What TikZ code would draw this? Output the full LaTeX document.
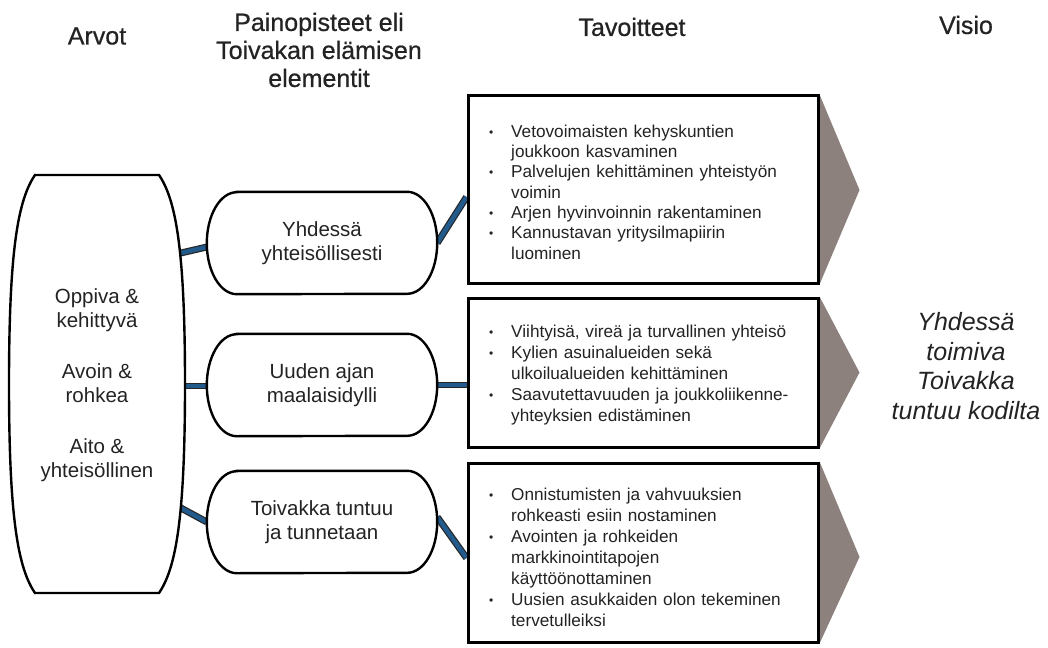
\documentclass[tikz,border=0pt]{standalone}
\usepackage{fontspec}
\setmainfont{Liberation Sans}
\newfontfamily\hfont[FakeBold=0.6]{Liberation Sans}
\usetikzlibrary{calc}
\pgfdeclarelayer{bg}
\pgfdeclarelayer{mid}
\pgfsetlayers{bg,mid,main}
\definecolor{ink}{RGB}{35,35,35}
\definecolor{connblue}{RGB}{35,90,140}
\definecolor{trigray}{RGB}{141,129,125}
\newcommand\bl{\makebox[23pt][l]{\hspace*{1pt}\raisebox{1pt}{\fontsize{12}{12}\selectfont •}}}
\newcommand\ind{\hspace*{23pt}}
\newcommand\stadiumpath[1]{%
  \path[outl] ([xshift=30pt]#1.north west) -- ([xshift=-30pt]#1.north east)
    arc[start angle=90,end angle=-90,x radius=30pt,y radius=51pt]
    -- ([xshift=30pt]#1.south west)
    arc[start angle=270,end angle=90,x radius=30pt,y radius=51pt] -- cycle;}
\tikzset{
  hdr/.style={text=ink, font=\hfont\fontsize{25}{28}\selectfont, align=center, inner sep=0pt},
  midtxt/.style={text=ink, font=\fontsize{20.5}{24.5}\selectfont, align=center, inner sep=0pt},
  midbox/.style={midtxt, minimum width=230pt, minimum height=102pt},
  outl/.style={draw=black, line width=2.4pt, fill=white},
  goalbox/.style={draw=black, line width=3pt, fill=white, minimum width=350pt, inner sep=0pt},
  goaltxt/.style={text=ink, align=left, inner sep=0pt, text width=320pt, anchor=west},
  tri/.style={fill=trigray},
  conn/.style={line width=1.2pt, draw=black!85, double=connblue, double distance=4.5pt},
  vis/.style={text=ink, font=\itshape\fontsize{25}{29.5}\selectfont, align=center, inner sep=0pt}
}
\begin{document}
\begin{tikzpicture}[x=1pt,y=-1pt]
\useasboundingbox (0,0) rectangle (1048,647);
\begin{pgfonlayer}{bg}
\fill[white] (0,0) rectangle (1048,647);
\end{pgfonlayer}

% headers
\node[hdr] (h1) at (97,36) {Arvot};
\node[hdr] (h2) at (319,50) {Painopisteet eli\\Toivakan elämisen\\elementit};
\node[hdr] (h3) at (632,27) {Tavoitteet};
\node[hdr] (h4) at (966,25) {Visio};

% values (barrel)
\node[midtxt] (arvot) at (97,385) {Oppiva \&\\kehittyvä\\[26pt]Avoin \&\\rohkea\\[26pt]Aito \&\\yhteisöllinen};
\begin{pgfonlayer}{mid}
\path[outl] (35,175) -- (159,175)
  .. controls (176,200) and (185,250) .. (185,384)
  .. controls (185,518) and (176,568) .. (159,593)
  -- (35,593)
  .. controls (18,568) and (9,518) .. (9,384)
  .. controls (9,250) and (18,200) .. (35,175) -- cycle;
\end{pgfonlayer}
\coordinate (a1) at (168,256);
\coordinate (a2) at (170,386);
\coordinate (a3) at (168,501);

% focus areas
\node[midbox] (b1) at (322,243) {Yhdessä\\yhteisöllisesti};
\node[midbox] (b2) at (322,385) {Uuden ajan\\maalaisidylli};
\node[midbox] (b3) at (322,522) {Toivakka tuntuu\\ja tunnetaan};
\begin{pgfonlayer}{mid}
\stadiumpath{b1}
\stadiumpath{b2}
\stadiumpath{b3}
\end{pgfonlayer}

% goals
\node[goalbox, minimum height=187pt] (t1) at (643,189.5) {};
\node[goalbox, minimum height=149pt] (t2) at (643,372.5) {};
\node[goalbox, minimum height=179pt] (t3) at (643,552.5) {};
\node[goaltxt, font=\fontsize{17.2}{20.3}\selectfont] (t1txt) at (488,192) {%
\bl Vetovoimaisten kehyskuntien\\
\ind joukkoon kasvaminen\\
\bl Palvelujen kehittäminen yhteistyön\\
\ind voimin\\
\bl Arjen hyvinvoinnin rakentaminen\\
\bl Kannustavan yritysilmapiirin\\
\ind luominen};
\node[goaltxt, font=\fontsize{17.2}{21}\selectfont] (t2txt) at (488,375) {%
\bl Viihtyisä, vireä ja turvallinen yhteisö\\
\bl Kylien asuinalueiden sekä\\
\ind ulkoilualueiden kehittäminen\\
\bl Saavutettavuuden ja joukkoliikenne-\\
\ind yhteyksien edistäminen};
\node[goaltxt, font=\fontsize{17.2}{21}\selectfont] (t3txt) at (488,557) {%
\bl Onnistumisten ja vahvuuksien\\
\ind rohkeasti esiin nostaminen\\
\bl Avointen ja rohkeiden\\
\ind markkinointitapojen\\
\ind käyttöönottaminen\\
\bl Uusien asukkaiden olon tekeminen\\
\ind tervetulleiksi};

% arrow-like triangles
\begin{pgfonlayer}{mid}
\fill[tri] (t1.north east) -- ([xshift=40pt]t1.north east |- 0,190) -- (t1.south east) -- cycle;
\fill[tri] (t2.north east) -- ([xshift=40pt]t2.east) -- (t2.south east) -- cycle;
\fill[tri] (t3.north east) -- ([xshift=40pt]t3.north east |- 0,557) -- (t3.south east) -- cycle;
\end{pgfonlayer}

% connectors
\begin{pgfonlayer}{bg}
\draw[conn] (a1) -- ([yshift=-4pt]b1.west);
\draw[conn] (a2) -- (a2 -| b2.west);
\draw[conn] (a3) -- (b3.west);
\draw[conn] (b1.east) -- ([yshift=-7.5pt]t1.west);
\draw[conn] (b2.east) -- (b2.east -| t2.west);
\draw[conn] ([yshift=5pt]b3.east) -- ([yshift=-5.5pt]t3.west);
\end{pgfonlayer}

% vision
\node[vis] (v) at (966,366) {Yhdessä\\toimiva\\Toivakka\\tuntuu kodilta};
\end{tikzpicture}
\end{document}
